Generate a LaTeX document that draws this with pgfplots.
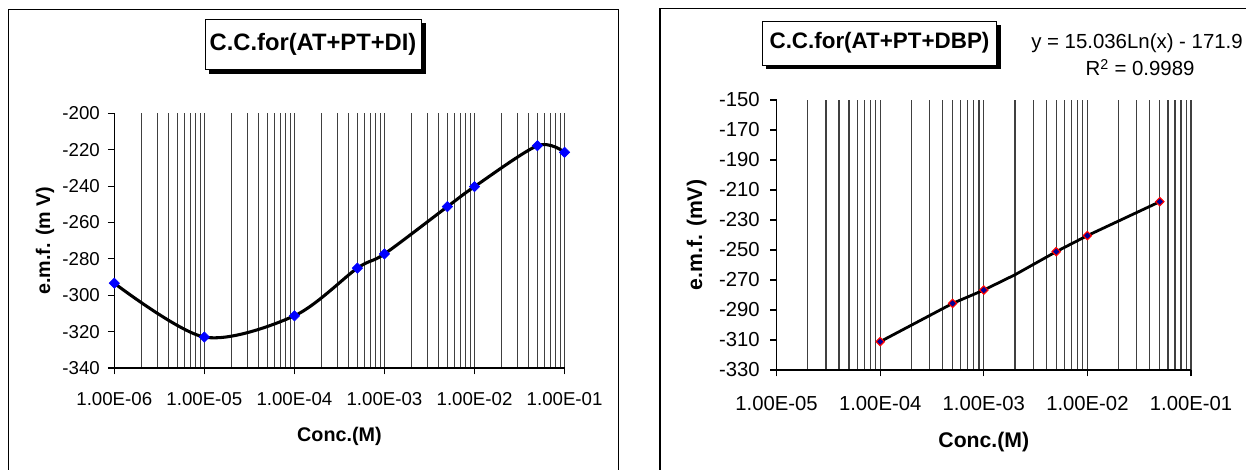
\documentclass[border=0pt]{standalone}
\usepackage{pgfplots}
\pgfplotsset{compat=1.18}
\usepackage{fontspec}
\setmainfont{Liberation Sans}

\pgfplotsset{
  excelstyle/.style={
    scale only axis, anchor=south west, clip=false,
    axis lines=left, axis line style={-, line width=0.8pt},
    tick align=outside, major tick length=4.8pt, minor tick length=0pt,
    tick style={black, line width=0.8pt},
    xmajorgrids, xminorgrids,
    major grid style={black!75, line width=0.85pt},
    minor grid style={black!75, line width=0.85pt},
    /pgf/number format/assume math mode=true,
    yticklabel style={anchor=east, inner sep=0pt},
    xticklabel style={anchor=center, inner sep=0pt},
  }
}

\begin{document}
\begin{tikzpicture}
\useasboundingbox (0,0) rectangle (934.5pt,352.5pt);
\begin{scope}[x=0.75pt,y=-0.75pt,yshift=352.5pt]
  % panel frames
  \draw[line width=1pt] (8.7,9.3) rectangle (618.8,495);
  \draw[line width=1pt] (660,8.3) rectangle (1265,495);
  % left title box
  \fill[black] (209,23.5) rectangle (425.7,74);
  \draw[fill=white, line width=0.6pt] (205,19.3) rectangle (421,69.3);
  \node[font=\bfseries\fontsize{17.8}{20}\selectfont] at (313,44.3) {C.C.for(AT+PT+DI)};
  % right title box
  \fill[black] (766.4,25) rectangle (1000.5,69.3);
  \draw[fill=white, line width=0.6pt] (762.4,21) rectangle (996.6,65);
  \node[font=\bfseries\fontsize{16.8}{20}\selectfont] at (879.5,43) {C.C.for(AT+PT+DBP)};
  % equation
  \node[anchor=base, font=\fontsize{15.3}{18}\selectfont] at (1137,49) {y = 15.036Ln(x) - 171.9};
  \node[anchor=base, font=\fontsize{15.3}{18}\selectfont] at (1140,76) {R\textsuperscript{2} = 0.9989};
\end{scope}

% ---------------- left chart ----------------
\begin{semilogxaxis}[excelstyle,
  at={(85.725pt,76.5pt)}, width=337.7pt, height=191.0pt,
  xmin=1e-6, xmax=1e-1, ymin=-340, ymax=-200,
  ytick={-340,-320,-300,-280,-260,-240,-220,-200},
  xtick={1e-6,1e-5,1e-4,1e-3,1e-2,1e-1},
  xticklabels={1.00E-06,1.00E-05,1.00E-04,1.00E-03,1.00E-02,1.00E-01},
  minor xtick={2e-6,3e-6,4e-6,5e-6,6e-6,7e-6,8e-6,9e-6,
               2e-5,3e-5,4e-5,5e-5,6e-5,7e-5,8e-5,9e-5,
               2e-4,3e-4,4e-4,5e-4,6e-4,7e-4,8e-4,9e-4,
               2e-3,3e-3,4e-3,5e-3,6e-3,7e-3,8e-3,9e-3,
               2e-2,3e-2,4e-2,5e-2,6e-2,7e-2,8e-2,9e-2},
  ticklabel style={font=\fontsize{14}{16}\selectfont},
  xticklabel style={yshift=-18.3pt},
  yticklabel style={xshift=-5.9pt},
  xlabel={Conc.(M)}, ylabel={e.m.f. (m V)},
  label style={font=\bfseries\fontsize{14.8}{17}\selectfont},
  xlabel style={at={(axis description cs:0.5,0)}, anchor=center, yshift=-51.5pt},
  ylabel style={at={(axis description cs:-0.154,0.5)}, anchor=center},
]
\addplot[black, line width=2.3pt, smooth, tension=0.5, mark=none] coordinates {
  (1e-6,-293.4) (1e-5,-323.0) (1e-4,-311.3) (5e-4,-285.1) (1e-3,-277.3)
  (5e-3,-251.3) (1e-2,-240.3) (5e-2,-217.8) (1e-1,-221.4)};
\addplot[only marks, mark=square*, mark size=2.75pt,
  mark options={rotate=45, fill=blue, draw=blue}] coordinates {
  (1e-6,-293.4) (1e-5,-323.0) (1e-4,-311.3) (5e-4,-285.1) (1e-3,-277.3)
  (5e-3,-251.3) (1e-2,-240.3) (5e-2,-217.8) (1e-1,-221.4)};
\end{semilogxaxis}

% ---------------- right chart ----------------
\begin{semilogxaxis}[excelstyle,
  at={(582.45pt,75pt)}, width=310.8pt, height=202.5pt,
  xmin=1e-5, xmax=1e-1, ymin=-330, ymax=-150,
  ytick={-330,-310,-290,-270,-250,-230,-210,-190,-170,-150},
  xtick={1e-5,1e-4,1e-3,1e-2,1e-1},
  xticklabels={1.00E-05,1.00E-04,1.00E-03,1.00E-02,1.00E-01},
  minor xtick={2e-5,3e-5,4e-5,5e-5,6e-5,7e-5,8e-5,9e-5,
               2e-4,3e-4,4e-4,5e-4,6e-4,7e-4,8e-4,9e-4,
               2e-3,3e-3,4e-3,5e-3,6e-3,7e-3,8e-3,9e-3,
               2e-2,3e-2,4e-2,5e-2,6e-2,7e-2,8e-2,9e-2},
  ticklabel style={font=\fontsize{15.2}{17}\selectfont},
  xticklabel style={yshift=-20.2pt},
  yticklabel style={xshift=-7.7pt},
  xlabel={Conc.(M)}, ylabel={e.m.f. (mV)},
  label style={font=\bfseries\fontsize{15.9}{18}\selectfont},
  xlabel style={at={(axis description cs:0.5,0)}, anchor=center, yshift=-53.8pt},
  ylabel style={at={(axis description cs:-0.193,0.5)}, anchor=center},
]
\addplot[only marks, mark=square*, mark size=2.4pt,
  mark options={rotate=45, fill=red, draw=red}] coordinates {
  (1e-4,-311.1) (5e-4,-285.6) (1e-3,-276.7) (5e-3,-251.1) (1e-2,-240.4) (5e-2,-217.8)};
\addplot[only marks, mark=square*, mark size=1.4pt,
  mark options={rotate=45, fill=blue!60!black, draw=blue!60!black}] coordinates {
  (1e-4,-311.1) (5e-4,-285.6) (1e-3,-276.7) (5e-3,-251.1) (1e-2,-240.4) (5e-2,-217.8)};
\addplot[black, line width=2.1pt, mark=none] coordinates {
  (1e-4,-311.1) (5e-4,-285.6) (1e-3,-276.7) (2e-3,-266.5) (5e-3,-251.1) (1e-2,-240.4) (5e-2,-217.8)};
\end{semilogxaxis}
\end{tikzpicture}
\end{document}
